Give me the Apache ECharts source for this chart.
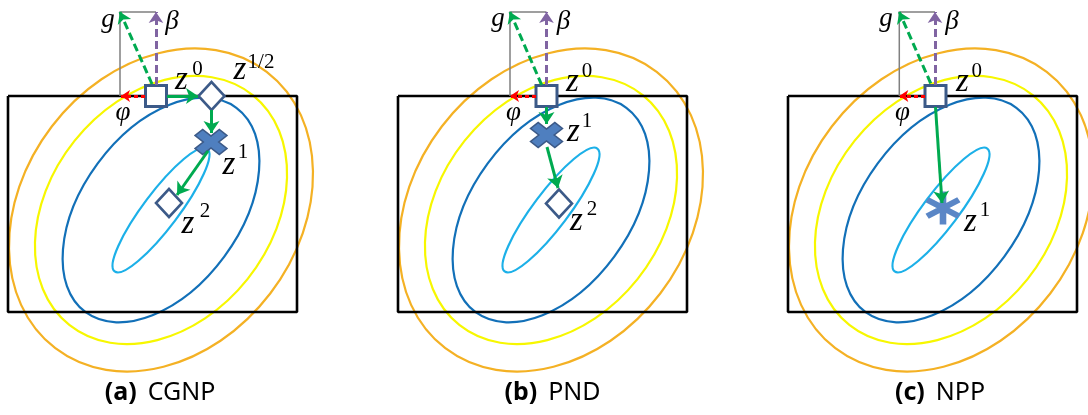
<!DOCTYPE html>
<html><head><meta charset="utf-8">
<script src="https://cdn.jsdelivr.net/npm/echarts@6/dist/echarts.min.js"></script>
<style>html,body{margin:0;padding:0;background:#fff}#c{width:1088px;height:415px}</style>
</head><body><div id="c"></div>
<script>
// ---- data (panel-local diagram units, origin = top-left of the feasible box) ----
const panelTags = ['(a)', '(b)', '(c)'];
const panelNames = ['CGNP', 'PND', 'NPP'];
const captionPos = [[152, 297], [154.5, 297], [152, 297]];
const framePts = [[0, 0], [289, 0], [289, 216], [0, 216], [0, 0]];
// contour levels: [cx, cy, semi-major, semi-minor, tilt in degrees]
const contourLevels = [
  [153, 114, 174, 137.5, 52.6],
  [153, 114, 147, 110.7, 51.4],
  [153, 114, 127, 78.6, 53.6],
  [153, 114, 77, 17.6, 53]
];
const contourColors = ['#f4b124', '#f7f700', '#1270b8', '#1cb0e8'];

const squarePts = [[[148, 0]], [[148.5, 0]], [[147.5, 0]]];
const diamondPts = [[[203.5, 0], [161, 107]], [[161, 107.5]], []];
const crossPts = [[[203, 46]], [[148.5, 39]], []];
const starPts = [[], [], [[155, 112]]];

const stepArrows = [
  [[[159, 0], [190, 0]], [[203.5, 14], [203.5, 37]], [[200, 55], [169, 99]]],
  [[[148.5, 11], [148.5, 28]], [[149, 51], [160, 92]]],
  [[[147.5, 11], [154, 107]]]
];
const gradArrows = [[[144, -12], [112, -84]], [[143.7, -11], [112, -84]], [[142.7, -12.7], [111.3, -84]]];
const betaArrows = [[[148, -11], [148, -84]], [[148.5, -11], [148.5, -84]], [[147, -11], [147, -84]]];
const phiArrows = [[[137, 0], [113, 0]], [[138, 0], [112, 0]], [[137, 0], [111.3, 0]]];
const guideLines = [
  [[112, 0], [112, -84], [148, -84]],
  [[112, 0], [112, -84], [148.5, -84]],
  [[111.3, 0], [111.3, -84], [147, -84]]
];

const labelText = [
  ['g', 'β', 'φ', 'z', '0', 'z', '1/2', 'z', '1', 'z', '2'],
  ['g', 'β', 'φ', 'z', '0', 'z', '1', 'z', '2'],
  ['g', 'β', 'φ', 'z', '0', 'z', '1']
];
const labelKind = [
  ['v', 'v', 'v', 'z', 's', 'z', 's', 'z', 's', 'z', 's'],
  ['v', 'v', 'v', 'z', 's', 'z', 's', 'z', 's'],
  ['v', 'v', 'v', 'z', 's', 'z', 's']
];
const labelPos = [
  [[100, -76], [164, -74], [115, 17], [173.5, -12], [189.5, -27], [232, -22], [253, -34], [221, 73], [235, 56.5], [180, 132], [197, 115]],
  [[100, -77], [165.5, -74], [115.5, 17], [174.5, -10], [189, -25], [175.5, 39.5], [189, 25], [178.5, 129], [194, 113]],
  [[98, -77], [164, -74], [114.5, 17], [174.5, -10], [188.7, -25], [182.5, 130], [197, 114.5]]
];

// ---- styles ----
const GREEN = '#00aa50', PURPLE = '#8064a2', RED = '#ff0000', GREY = '#808080';
const MARK_EDGE = '#3c5a88', MARK_FILL = '#4f7fbf';
const fontSize = { v: 27, z: 33, s: 21 };
const fontFace = { v: 'italic', z: 'italic', s: '' };
const crossPath = 'path://M0,24L24,0L50,26L76,0L100,24L74,50L100,76L76,100L50,74L24,100L0,76L26,50Z';
const starPath = 'path://M41,0L59,0L59,100L41,100Z M11.2,17.21L97.8,67.21L88.8,82.79L2.2,32.79Z M2.2,67.21L88.8,17.21L97.8,32.79L11.2,82.79Z';

const grids = [], xAxes = [], yAxes = [], series = [];
for (let i = 0; i < 3; i++) {
  grids.push({ left: 390 * i, top: 0, width: 300, height: 415 });
  xAxes.push({ type: 'value', gridIndex: i, min: -8, max: 292, show: false });
  yAxes.push({ type: 'value', gridIndex: i, min: -96, max: 319, inverse: true, show: false });
  const ax = { xAxisIndex: i, yAxisIndex: i };

  series.push(Object.assign({
    type: 'custom', z: 1, silent: true, clip: false, data: contourLevels,
    renderItem: function (params, api) {
      const c = api.coord([api.value(0), api.value(1)]);
      const s = api.size([api.value(2), api.value(3)]);
      return {
        type: 'ellipse', x: c[0], y: c[1], rotation: api.value(4) * Math.PI / 180,
        shape: { cx: 0, cy: 0, rx: s[0], ry: s[1] },
        style: { fill: 'none', stroke: contourColors[params.dataIndex], lineWidth: 2.2 }
      };
    }
  }, ax));

  series.push(Object.assign({
    type: 'line', z: 2, silent: true, data: framePts, showSymbol: false, symbol: 'none',
    lineStyle: { color: '#000', width: 2.6 }, animation: false
  }, ax));

  series.push(Object.assign({
    type: 'lines', coordinateSystem: 'cartesian2d', polyline: true, z: 3, silent: true,
    data: [{ coords: guideLines[i] }], symbol: 'none',
    lineStyle: { color: GREY, width: 1.5, opacity: 1 }
  }, ax));

  series.push(Object.assign({
    type: 'lines', coordinateSystem: 'cartesian2d', z: 5, silent: true,
    data: [{ coords: gradArrows[i] }], symbol: ['none', 'arrow'], symbolSize: 11,
    lineStyle: { color: GREEN, width: 3, type: [8, 4], opacity: 1 }
  }, ax));
  series.push(Object.assign({
    type: 'lines', coordinateSystem: 'cartesian2d', z: 5, silent: true,
    data: [{ coords: betaArrows[i] }], symbol: ['none', 'arrow'], symbolSize: 11,
    lineStyle: { color: PURPLE, width: 3, type: [8, 4], opacity: 1 }
  }, ax));
  series.push(Object.assign({
    type: 'lines', coordinateSystem: 'cartesian2d', z: 5, silent: true,
    data: [{ coords: phiArrows[i] }], symbol: ['none', 'arrow'], symbolSize: 9,
    lineStyle: { color: RED, width: 3, type: [4, 3], opacity: 1 }
  }, ax));
  series.push(Object.assign({
    type: 'lines', coordinateSystem: 'cartesian2d', z: 6, silent: true,
    data: stepArrows[i].map(c => ({ coords: c })), symbol: ['none', 'arrow'], symbolSize: 12,
    lineStyle: { color: GREEN, width: 3, opacity: 1 }
  }, ax));

  series.push(Object.assign({
    type: 'scatter', z: 4, silent: true, data: squarePts[i], symbol: 'rect', symbolSize: 21,
    itemStyle: { color: '#fff', borderColor: MARK_EDGE, borderWidth: 3, opacity: 1 }
  }, ax));
  series.push(Object.assign({
    type: 'scatter', z: 4, silent: true, data: diamondPts[i], symbol: 'diamond', symbolSize: [26, 28],
    itemStyle: { color: '#fff', borderColor: MARK_EDGE, borderWidth: 2.6, opacity: 1 }
  }, ax));
  series.push(Object.assign({
    type: 'scatter', z: 4, silent: true, data: crossPts[i], symbol: crossPath, symbolSize: [32, 25],
    itemStyle: { color: MARK_FILL, borderColor: MARK_EDGE, borderWidth: 1.5, opacity: 1 }
  }, ax));
  series.push(Object.assign({
    type: 'scatter', z: 4, silent: true, data: starPts[i], symbol: starPath, symbolSize: [35, 33],
    itemStyle: { color: '#5a86c6', opacity: 1 }
  }, ax));

  series.push(Object.assign({
    type: 'custom', z: 7, silent: true, clip: false, data: labelPos[i],
    renderItem: function (params, api) {
      const c = api.coord([api.value(0), api.value(1)]);
      const k = labelKind[i][params.dataIndex];
      const fs = fontSize[k];
      const dy = k === 'z' ? -0.1 * fs : 0;
      return {
        type: 'text', x: c[0], y: c[1] + dy,
        style: {
          text: labelText[i][params.dataIndex],
          font: fontFace[k] + ' ' + fs + 'px "Liberation Serif"',
          fill: '#000', align: 'center', verticalAlign: 'middle'
        }
      };
    }
  }, ax));

  series.push(Object.assign({
    type: 'custom', z: 7, silent: true, clip: false, data: [captionPos[i]],
    renderItem: function (params, api) {
      const c = api.coord([api.value(0), api.value(1)]);
      return {
        type: 'text', x: c[0], y: c[1],
        style: {
          text: '{b|' + panelTags[i] + '}{r|' + panelNames[i] + '}',
          align: 'center', verticalAlign: 'middle',
          rich: {
            b: { font: 'bold 25px "Noto Sans"', fill: '#000', padding: [0, 11, 0, 0] },
            r: { font: '25px "Noto Sans"', fill: '#000' }
          }
        }
      };
    }
  }, ax));
}

const chart = echarts.init(document.getElementById('c'), null, { renderer: 'canvas' });
chart.setOption({ animation: false, backgroundColor: '#fff', grid: grids, xAxis: xAxes, yAxis: yAxes, series: series });
</script></body></html>
